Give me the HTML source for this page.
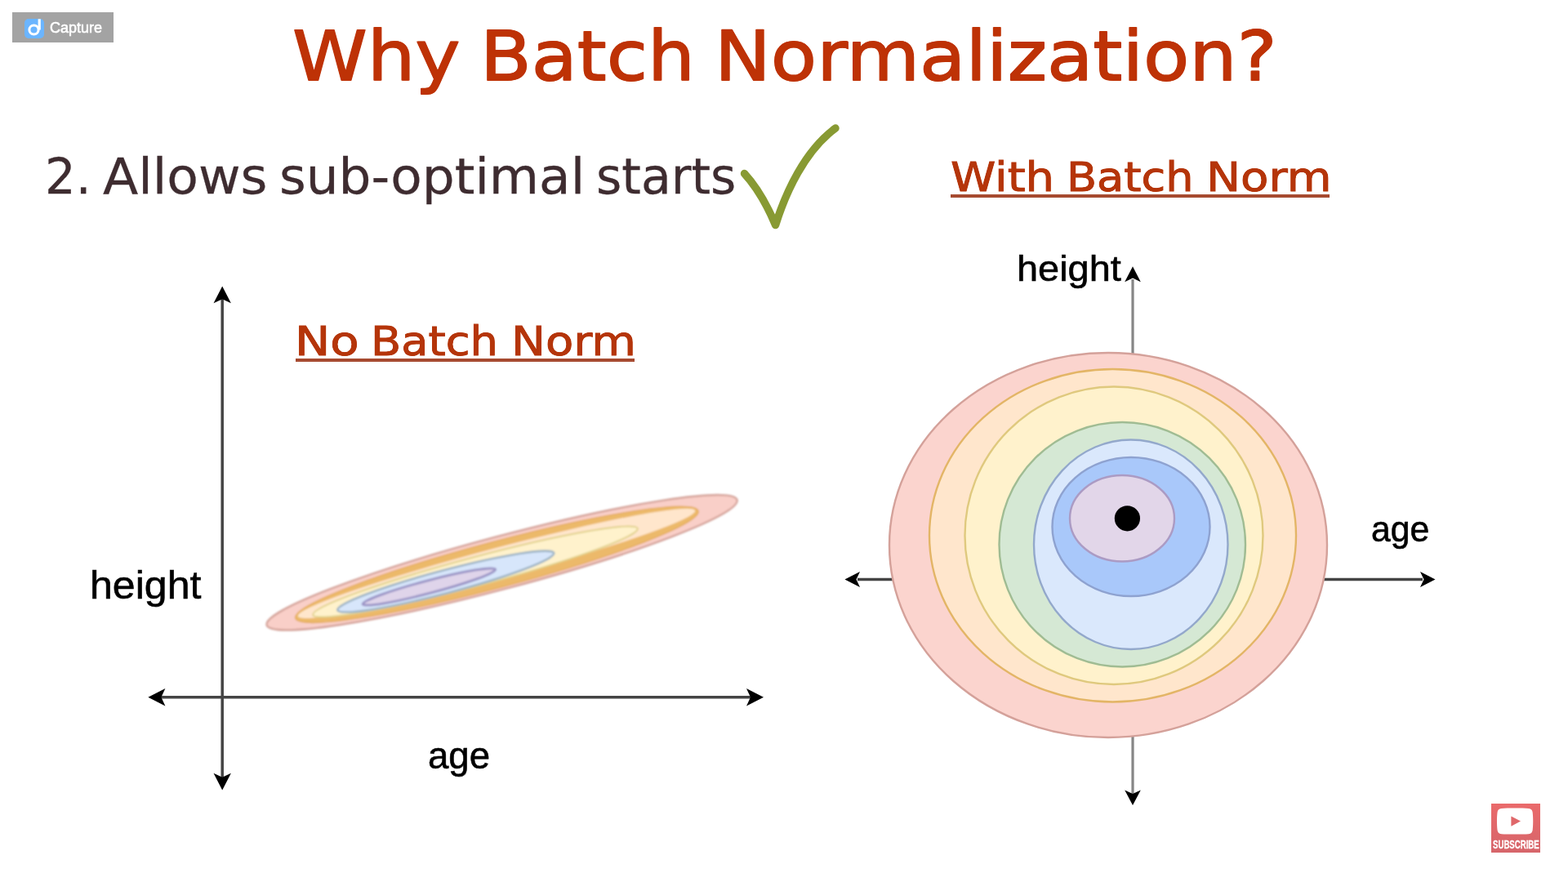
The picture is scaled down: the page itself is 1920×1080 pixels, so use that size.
<!DOCTYPE html>
<html lang="en">
<head>
<meta charset="utf-8">
<title>Why Batch Normalization?</title>
<style>
  html, body { margin: 0; padding: 0; }
  body {
    width: 1920px; height: 1080px; overflow: hidden;
    background: #ffffff; position: relative;
    font-family: "DejaVu Sans", "Liberation Sans", sans-serif;
  }
  .line { margin: 0; padding: 0; font-size: 0; line-height: 0; font-weight: 400; }
  .t {
    position: absolute; display: block; white-space: nowrap; line-height: 1;
    transform-origin: 0 0; margin: 0; padding: 0; z-index: 2; font-weight: 400;
  }
  #gfx { position: absolute; left: 0; top: 0; width: 1920px; height: 1080px; }

  /* headline */
  .title { color: #be3206; -webkit-text-stroke: 1.5px #be3206; text-shadow: 0 1.2px 0 #be3206, 0 -1.2px 0 #be3206; }
  /* bullet line */
  .sub { color: #3e2c30; -webkit-text-stroke: 0.3px #3e2c30; }
  /* underlined chart headings */
  .head { color: #b5350a; -webkit-text-stroke: 0.9px #b5350a; text-shadow: 0 0.4px 0 #b5350a, 0 -0.4px 0 #b5350a; }
  .rule { position: absolute; height: 4px; background: #a64a30; }
  /* axis labels */
  .lab { color: #000; font-family: "Liberation Sans", sans-serif; -webkit-text-stroke: 0.6px #000; }
  .capt { color: #fff; font-family: "Liberation Sans", sans-serif; -webkit-text-stroke: 0.6px #fff; }
  .subt { color: #fff; font-family: "Liberation Sans", sans-serif; font-weight: 700; -webkit-text-stroke: 0.3px #fff; }

  /* capture badge */
  #cap { position: absolute; left: 15px; top: 15px; width: 124px; height: 37px; background: #a3a3a3; }
  #cap svg { position: absolute; left: 15px; top: 8px; width: 24px; height: 24px; }

  /* subscribe badge */
  #subs { position: absolute; left: 1826px; top: 984px; width: 60px; height: 60px;
          background: linear-gradient(#ea6a6b, #d6656a); }
  #subs svg { position: absolute; left: 0; top: 0; width: 60px; height: 60px; }
</style>
</head>
<body>

<svg id="gfx" viewBox="0 0 1920 1080">
  <defs>
    <filter id="soft" x="-5%" y="-20%" width="110%" height="140%"><feGaussianBlur stdDeviation="0.9"/></filter>
    <filter id="soft2" x="-5%" y="-5%" width="110%" height="110%"><feGaussianBlur stdDeviation="0.6"/></filter>
  </defs>
  <!-- left chart: squashed contours -->
  <g id="lc" filter="url(#soft)">
    <ellipse cx="614.6" cy="688.8" rx="298" ry="32.2" transform="rotate(-14.9 614.6 688.8)" fill="#f9cfc8" stroke="#d5a49b" stroke-width="2.4"/>
    <ellipse cx="608.4" cy="691.3" rx="255.3" ry="28.2" transform="rotate(-14.9 608.4 691.3)" fill="#ecb96b" stroke="#e3aa58" stroke-width="1.2"/>
    <ellipse cx="608.0" cy="689.9" rx="251.6" ry="18.5" transform="rotate(-14.9 608.0 689.9)" fill="#ffe6cc"/>
    <ellipse cx="582.0" cy="700.0" rx="205.7" ry="17.6" transform="rotate(-14.9 582.0 700.0)" fill="#fff2cc" stroke="#e2d28c" stroke-width="2"/>
    <ellipse cx="545.8" cy="712.1" rx="137" ry="14.0" transform="rotate(-14.8 545.8 712.1)" fill="#d7e6fb" stroke="#9fb5c6" stroke-width="2.6"/>
    <ellipse cx="525.4" cy="718.5" rx="84" ry="7.8" transform="rotate(-14.7 525.4 718.5)" fill="#dfd4ea" stroke="#9c96c7" stroke-width="3"/>
  </g>
  <!-- left chart axes -->
  <g id="la" stroke="#444" stroke-width="3.5" fill="none">
    <path d="M272.2 366V952"/>
    <path d="M197 853.8H920"/>
  </g>
  <g id="lah" fill="#000">
    <path d="M272.2 350.6L282.9 371.2L272.2 366.2L261.5 371.2Z"/>
    <path d="M272.2 967.4L282.9 946.8L272.2 951.8L261.5 946.8Z"/>
    <path d="M181.4 853.8L202.4 843.1L197.4 853.8L202.4 864.5Z"/>
    <path d="M935 853.8L914 843.1L919 853.8L914 864.5Z"/>
  </g>
  <!-- right chart axes -->
  <g id="ra" fill="none">
    <path d="M1387 342V440M1387 895V972" stroke="#868686" stroke-width="3.2"/>
    <path d="M1050 709.5H1100M1615 709.5H1742" stroke="#444" stroke-width="3.5"/>
  </g>
  <g id="rah" fill="#000">
    <path d="M1387 326.3L1396.8 345.2L1387 340.6L1377.2 345.2Z"/>
    <path d="M1387 986.1L1396.8 967.4L1387 972L1377.2 967.4Z"/>
    <path d="M1034.4 709.5L1053 700L1048.5 709.5L1053 719Z"/>
    <path d="M1757.5 709.5L1739 700L1743.5 709.5L1739 719Z"/>
  </g>
  <!-- right chart: round contours -->
  <g id="rc" filter="url(#soft2)">
    <ellipse cx="1357" cy="667.5" rx="268" ry="235.5" fill="#fbd4ce" stroke="#d4a19a" stroke-width="2.4"/>
    <ellipse cx="1362.5" cy="655.75" rx="224.5" ry="203.75" fill="#ffe6cc" stroke="#e3b566" stroke-width="2.4"/>
    <ellipse cx="1364" cy="655.75" rx="182.5" ry="182.25" fill="#fff2cc" stroke="#dfc97e" stroke-width="2.4"/>
    <ellipse cx="1374.25" cy="666.75" rx="150.75" ry="149.75" fill="#d5e8d4" stroke="#a0bc93" stroke-width="2.4"/>
    <ellipse cx="1384.75" cy="666.75" rx="118.75" ry="128.25" fill="#dae8fc" stroke="#93a8cb" stroke-width="2.4"/>
    <ellipse cx="1385" cy="645" rx="96.5" ry="85" fill="#a9c8fa" stroke="#8ea2d0" stroke-width="2.4"/>
    <ellipse cx="1374" cy="634.75" rx="64" ry="52.75" fill="#e2d6e9" stroke="#ab9bc4" stroke-width="2.4"/>
    <circle cx="1380.4" cy="634.8" r="15.6" fill="#000"/>
  </g>
  <!-- check mark -->
  <path id="chk" d="M911.5 212.5Q933 236 949.6 275.6C962 236 985 185 1023 157" fill="none" stroke="#889a33" stroke-width="9.4" stroke-linecap="round" stroke-linejoin="round"/>
</svg>

<div id="cap">
  <svg viewBox="0 0 24 24"><rect width="24" height="24" rx="5" fill="#6bb5ff"/><circle cx="11.5" cy="13.5" r="5.6" fill="none" stroke="#fff" stroke-width="3"/><path d="M18.2 0.3V13.5" stroke="#fff" stroke-width="3.2" fill="none"/></svg>
</div>

<!-- TEXT-BEGIN -->
<h1 class="line"><span class="t title" id="w1" style="left:358.00px;top:27px;font-size:84.2px;transform:scaleX(1.1022);">Why</span> <span class="t title" id="w2" style="left:587.55px;top:27px;font-size:84.2px;transform:scaleX(1.0868);">Batch</span> <span class="t title" id="w3" style="left:875.20px;top:27px;font-size:84.2px;transform:scaleX(1.0934);">Normalization?</span></h1>
<p class="line"><span class="t sub" id="s1" style="left:55.21px;top:186px;font-size:60.0px;transform:scaleX(0.9861);">2.</span> <span class="t sub" id="s2" style="left:125.54px;top:186px;font-size:60.0px;transform:scaleX(1.0525);">Allows</span> <span class="t sub" id="s3" style="left:342.46px;top:186px;font-size:60.0px;transform:scaleX(1.0479);">sub-optimal</span> <span class="t sub" id="s4" style="left:730.39px;top:186px;font-size:60.0px;transform:scaleX(1.0021);">starts</span></p>
<h2 class="line"><span class="t head" id="h1" style="left:1163.86px;top:193px;font-size:49.1px;transform:scaleX(1.1400);">With</span> <span class="t head" id="h2" style="left:1306.22px;top:193px;font-size:49.1px;transform:scaleX(1.1017);">Batch</span> <span class="t head" id="h3" style="left:1476.93px;top:193px;font-size:49.1px;transform:scaleX(1.1468);">Norm</span></h2>
<h2 class="line"><span class="t head" id="n1" style="left:360.59px;top:394px;font-size:49.1px;transform:scaleX(1.1784);">No</span> <span class="t head" id="n2" style="left:453.91px;top:394px;font-size:49.1px;transform:scaleX(1.1047);">Batch</span> <span class="t head" id="n3" style="left:625.65px;top:394px;font-size:49.1px;transform:scaleX(1.1421);">Norm</span></h2>
<div class="line"><span class="t lab" id="l1" style="left:109.97px;top:693px;font-size:48.0px;transform:scaleX(1.0427);">height</span></div>
<div class="line"><span class="t lab" id="l2" style="left:523.90px;top:901px;font-size:47.0px;transform:scaleX(0.9699);">age</span></div>
<div class="line"><span class="t lab" id="l3" style="left:1244.63px;top:306px;font-size:45.0px;transform:scaleX(1.0422);">height</span></div>
<div class="line"><span class="t lab" id="l4" style="left:1679.14px;top:626px;font-size:44.0px;transform:scaleX(0.9708);">age</span></div>
<div class="line"><span class="t capt" id="captxt" style="left:60.89px;top:24px;font-size:19.0px;transform:scaleX(0.9479);">Capture</span></div>
<div class="line"><span class="t subt" id="subtxt" style="left:1828.43px;top:1027px;font-size:14.5px;transform:scaleX(0.6643);">SUBSCRIBE</span></div>
<!-- TEXT-END -->
<div class="rule" style="left:1163.7px;top:238.4px;width:464.6px;"></div>
<div class="rule" style="left:361.7px;top:439.2px;width:415.3px;"></div>

<div id="subs">
  <svg viewBox="0 0 60 60"><path d="M12.5 5.9C20 5.5 38 5.5 45.7 5.9C49 6.1 50.4 7.8 50.7 11C51.4 17 51.4 26 50.7 32.1C50.4 35.3 49 37 45.7 37.2C38 37.6 20 37.6 12.5 37.2C9.2 37 7.8 35.3 7.5 32.1C6.8 26 6.8 17 7.5 11C7.8 7.8 9.2 6.1 12.5 5.9Z" fill="#fff"/><path d="M24.4 15.4L36 21.6L24.4 27.8Z" fill="#e0676a"/></svg>
</div>

</body>
</html>
